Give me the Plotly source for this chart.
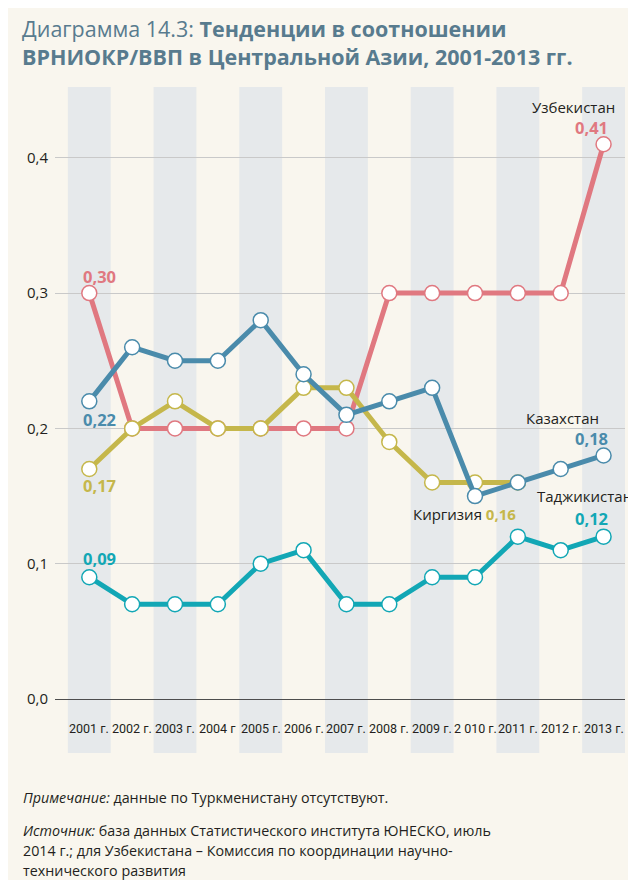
import plotly.graph_objects as go

years = list(range(2001, 2014))
year_labels = ["2001 г.", "2002 г.", "2003 г.", "2004 г", "2005 г.", "2006 г.", "2007 г.",
               "2008 г.", "2009 г.", "2 010 г.", "2011 г.", "2012 г.", "2013 г."]
uzbekistan = [0.30, 0.20, 0.20, 0.20, 0.20, 0.20, 0.20, 0.30, 0.30, 0.30, 0.30, 0.30, 0.41]
kyrgyzstan = [0.17, 0.20, 0.22, 0.20, 0.20, 0.23, 0.23, 0.19, 0.16, 0.16, 0.16, None, None]
kazakhstan = [0.22, 0.26, 0.25, 0.25, 0.28, 0.24, 0.21, 0.22, 0.23, 0.15, 0.16, 0.17, 0.18]
tajikistan = [0.09, 0.07, 0.07, 0.07, 0.10, 0.11, 0.07, 0.07, 0.09, 0.09, 0.12, 0.11, 0.12]
y_ticks = [0.0, 0.1, 0.2, 0.3, 0.4]
y_tick_labels = ["0,0", "0,1", "0,2", "0,3", "0,4"]

RED = "#e07880"
YEL = "#c5b74b"
BLU = "#4a8bab"
CYA = "#12a7b5"
BG = "#f9f6ee"
STRIPE = "#e6e9eb"
TITLE_C = "#587b8e"
TXT = "#231f20"

# page is offset by the 8px body margin
OFF = 8
W, H = 636 - OFF, 884 - OFF
# plot area in page pixels: x 55..625, y 87..753
ML = 55 - OFF
MT = 87 - OFF
MR = W - (625 - OFF)
MB = H - (753 - OFF)
PW, PH = W - ML - MR, H - MT - MB

def px_x(p):
    return (p - OFF - ML) / PW

def px_y(p):
    return 1 - (p - OFF - MT) / PH

fig = go.Figure()

series = [("Узбекистан", uzbekistan, RED), ("Киргизия", kyrgyzstan, YEL),
          ("Казахстан", kazakhstan, BLU), ("Таджикистан", tajikistan, CYA)]
for name, vals, col in series:
    fig.add_trace(go.Scatter(
        x=years, y=vals, name=name, mode="lines+markers",
        line=dict(color=col, width=5),
        marker=dict(size=15, color="white", line=dict(color=col, width=1.5)),
        connectgaps=False, showlegend=False, hoverinfo="skip"))

shapes = []
for yr in years[::2]:
    shapes.append(dict(type="rect", xref="x", yref="paper", x0=yr - 0.5, x1=yr + 0.5,
                       y0=0, y1=1, fillcolor=STRIPE, line=dict(width=0), layer="below"))
# white strip below the cream panel
shapes.append(dict(type="rect", xref="paper", yref="paper", x0=px_x(0), x1=px_x(640),
                   y0=px_y(900), y1=px_y(880), fillcolor="white", line=dict(width=0), layer="below"))

ann = []
# x tick labels
for yr, lab in zip(years, year_labels):
    ann.append(dict(x=yr, y=px_y(728), xref="x", yref="paper", text=lab, showarrow=False,
                    xanchor="center", yanchor="middle",
                    font=dict(family="Liberation Sans Narrow, Roboto, sans-serif", size=12.5, color=TXT)))

def vlab(x, y, text, col, xanchor, xshift, yshift, bold=True, size=16.5):
    ann.append(dict(x=x, y=y, xref="x", yref="y", text=f"<b>{text}</b>" if bold else text,
                    showarrow=False, xanchor=xanchor, yanchor="middle",
                    xshift=xshift, yshift=yshift,
                    font=dict(family="Open Sans, sans-serif", size=size, color=col)))

vlab(2001, uzbekistan[0], "0,30", RED, "left", -8, 17)
vlab(2001, kazakhstan[0], "0,22", BLU, "left", -8, -18)
vlab(2001, kyrgyzstan[0], "0,17", YEL, "left", -8, -17)
vlab(2001, tajikistan[0], "0,09", CYA, "left", -8, 19)
vlab(2013, uzbekistan[-1], "0,41", RED, "right", 6, 17)
vlab(2013, uzbekistan[-1], "Узбекистан", TXT, "right", 13, 37, bold=False, size=15)
vlab(2013, kazakhstan[-1], "0,18", BLU, "right", 6, 17)
vlab(2013, kazakhstan[-1], "Казахстан", TXT, "right", -3, 37, bold=False, size=15)
vlab(2013, tajikistan[-1], "0,12", CYA, "right", 6, 18)
vlab(2013, tajikistan[-1], "Таджикистан", TXT, "right", 30, 41, bold=False, size=15)
ann.append(dict(x=2010, y=kyrgyzstan[9], xref="x", yref="y",
                text=f"Киргизия <span style='color:{YEL}'><b>0,16</b></span>",
                showarrow=False, xanchor="right", yanchor="middle", xshift=43, yshift=-31,
                font=dict(family="Open Sans, sans-serif", size=15, color=TXT)))

# title
ann.append(dict(x=px_x(20), y=px_y(12), xref="paper", yref="paper", xanchor="left", yanchor="top",
                align="left", showarrow=False,
                text="Диаграмма 14.3: <b>Тенденции в соотношении</b><br><b>ВРНИОКР/ВВП в Центральной Азии, 2001-2013 гг.</b>",
                font=dict(family="Open Sans, sans-serif", size=21.5, color=TITLE_C)))
# footnotes
foot_lines = [
    (797, "<i>Примечание:</i> данные по Туркменистану отсутствуют."),
    (830, "<i>Источник:</i> база данных Статистического института ЮНЕСКО, июль"),
    (851, "2014 г.; для Узбекистана – Комиссия по координации научно-"),
    (871, "технического развития"),
]
for yp, t in foot_lines:
    ann.append(dict(x=px_x(21), y=px_y(yp), xref="paper", yref="paper", xanchor="left", yanchor="middle",
                    align="left", showarrow=False, text=t,
                    font=dict(family="Open Sans, sans-serif", size=14.3, color=TXT)))

fig.update_layout(
    width=W, height=H, margin=dict(l=ML, r=MR, t=MT, b=MB),
    paper_bgcolor=BG, plot_bgcolor="rgba(0,0,0,0)",
    shapes=shapes, annotations=ann, showlegend=False,
    xaxis=dict(range=[2000.2, 2013.5], showgrid=False, zeroline=False, showticklabels=False,
               showline=False, fixedrange=True),
    yaxis=dict(range=[-(753 - 699) / 1353, (699 - 87) / 1353], tickvals=y_ticks, ticktext=y_tick_labels,
               showgrid=True, gridcolor="#c9c9c9", gridwidth=1,
               zeroline=True, zerolinecolor="#4d4d4d", zerolinewidth=1.2,
               tickfont=dict(family="Open Sans, sans-serif", size=15, color=TXT),
               ticks="", ticklabelstandoff=6, showline=False, fixedrange=True),
)

fig.write_html("out.html")
